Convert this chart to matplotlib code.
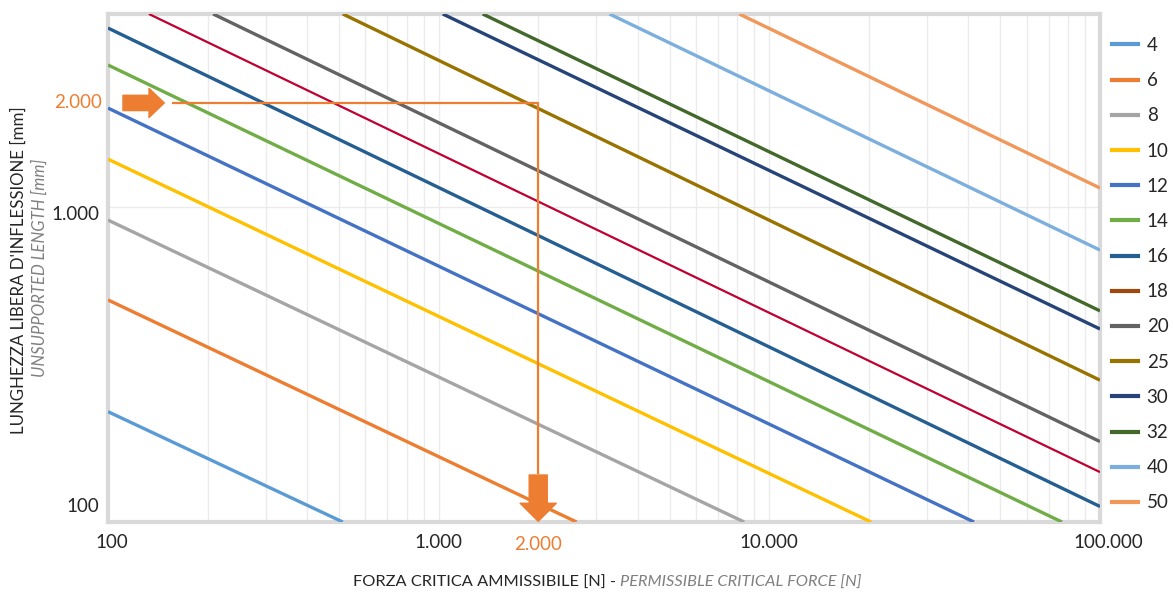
import matplotlib
matplotlib.use("Agg")
from matplotlib import pyplot as plt
from matplotlib.lines import Line2D
from matplotlib.offsetbox import AnchoredOffsetbox, HPacker, TextArea
from matplotlib.ticker import FixedLocator, NullFormatter, NullLocator
from matplotlib.transforms import ScaledTranslation

plt.rcParams['font.family'] = ['Lato', 'DejaVu Sans']

# diametro [mm] -> retta su scala log-log, letta come due estremi (forza N, lunghezza mm)
diameters = ['4', '6', '8', '10', '12', '14', '16', '18', '20', '25', '30', '32', '40', '50']
force_start = [100, 100, 100, 100, 100, 100, 100, 133, 208, 513, 1029, 1359, 3286, 8110]
length_start = [224, 507, 909, 1419, 2061, 2824, 3700, 4100, 4100, 4100, 4100, 4100, 4100, 4100]
force_end = [513, 2612, 8395, 20320, 41580, 76740, 100000, 100000, 100000, 100000, 100000, 100000, 100000, 100000]
length_end = [100, 100, 100, 100, 100, 100, 112, 144, 180, 282, 410, 468, 730, 1149]

line_colors = ['#5b9bd5', '#ed7d31', '#a5a5a5', '#ffc000', '#4472c4', '#70ad47', '#255e91',
               '#c00030', '#636363', '#997300', '#264478', '#43682b', '#7cafdd', '#f1975a']
legend_colors = ['#5b9bd5', '#ed7d31', '#a5a5a5', '#ffc000', '#4472c4', '#70ad47', '#255e91',
                 '#9e480e', '#636363', '#997300', '#264478', '#43682b', '#7cafdd', '#f1975a']

# esempio di lettura (freccia arancione)
example_force = 2000
example_length = 2140
example_force_from = 157
example_length_to = 143
example_label = '2.000'

x_ticks = [100, 1000, 10000, 100000]
x_tick_labels = ['100', '1.000', '10.000', '100.000']
y_ticks = [100, 1000]
y_tick_labels = ['100', '1.000']

ORANGE = '#ed7d31'
TEXT = '#262626'
GREY = '#808080'
FRAME = '#d9d9d9'
GRID = '#ebebeb'

fig = plt.figure(figsize=(11.73, 5.93), dpi=100)
ax = fig.add_axes([108 / 1173, 71 / 593, 992 / 1173, 508 / 593])
ax.set_xscale('log')
ax.set_yscale('log')
ax.set_xlim(100, 100000)
ax.set_ylim(100, 4100)

for i in range(len(diameters)):
    lw = 1.6 if diameters[i] == '18' else 2.4
    ax.plot([force_start[i], force_end[i]], [length_start[i], length_end[i]],
            color=line_colors[i], lw=lw, solid_capstyle='butt', zorder=3)

# grid
ax.xaxis.set_major_locator(FixedLocator(x_ticks))
ax.xaxis.set_minor_locator(FixedLocator([m * 10 ** e for e in range(2, 5) for m in range(2, 10)]))
ax.xaxis.set_minor_formatter(NullFormatter())
ax.yaxis.set_major_locator(FixedLocator(y_ticks))
ax.yaxis.set_minor_locator(NullLocator())
ax.set_xticklabels(x_tick_labels)
ax.set_yticklabels(y_tick_labels)
ax.grid(True, which='both', axis='x', color=GRID, lw=1.0, zorder=0)
ax.grid(True, which='major', axis='y', color=GRID, lw=1.0, zorder=0)
ax.set_axisbelow(True)
ax.tick_params(which='both', length=0, labelsize=13.5, colors=TEXT)
ax.tick_params(axis='x', pad=9)
ax.tick_params(axis='y', pad=6)
for s in ax.spines.values():
    s.set_color(FRAME)
    s.set_linewidth(3)

# small offsets of tick labels as in the original
lab_y = ax.get_yticklabels()
lab_y[0].set_transform(lab_y[0].get_transform() + ScaledTranslation(0, 0.17, fig.dpi_scale_trans))
lab_y[1].set_transform(lab_y[1].get_transform() + ScaledTranslation(0, -0.06, fig.dpi_scale_trans))
lab_x = ax.get_xticklabels()
lab_x[0].set_transform(lab_x[0].get_transform() + ScaledTranslation(0.04, 0, fig.dpi_scale_trans))
lab_x[3].set_transform(lab_x[3].get_transform() + ScaledTranslation(0.08, 0, fig.dpi_scale_trans))

# example lines + arrows
ax.plot([example_force_from, example_force, example_force],
        [example_length, example_length, example_length_to],
        color=ORANGE, lw=1.6, zorder=4)
ax.annotate('', xy=(148, example_length), xytext=(111, example_length),
            arrowprops=dict(arrowstyle='simple,head_length=11,head_width=21,tail_width=11',
                            mutation_scale=1, color=ORANGE, shrinkA=0, shrinkB=0), zorder=5)
ax.annotate('', xy=(example_force, 100.5), xytext=(example_force, 141),
            arrowprops=dict(arrowstyle='simple,head_length=13,head_width=26,tail_width=13',
                            mutation_scale=1, color=ORANGE, shrinkA=0, shrinkB=0), zorder=5)
ax.annotate(example_label, xy=(0, example_length), xycoords=('axes fraction', 'data'),
            xytext=(-4, 0), textcoords='offset points', ha='right', va='center',
            color=ORANGE, fontsize=13.5)
ax.annotate(example_label, xy=(example_force, 0), xycoords=('data', 'axes fraction'),
            xytext=(0, -16), textcoords='offset points', ha='center', va='center',
            color=ORANGE, fontsize=13.5)

# legend
handles = [Line2D([], [], color=c, lw=3) for c in legend_colors]
fig.legend(handles, diameters, loc='upper left', bbox_to_anchor=(1112 / 1173, 1 - 37 / 593),
           frameon=False, fontsize=13.5, handlelength=1.4, handletextpad=0.45,
           labelspacing=0.97, borderpad=0, borderaxespad=0, labelcolor=TEXT)

# axis titles
fig.text(19 / 1173, 1 - 270 / 593, "LUNGHEZZA LIBERA D'INFLESSIONE [mm]", rotation=90,
         ha='center', va='center', fontsize=12.2, color=TEXT)
fig.text(40 / 1173, 1 - 268 / 593, 'UNSUPPORTED LENGTH [mm]', rotation=90,
         ha='center', va='center', fontsize=12, color=GREY, style='italic')
xtitle = HPacker(children=[
    TextArea('FORZA CRITICA AMMISSIBILE [N] - ', textprops=dict(fontsize=11.8, color=TEXT)),
    TextArea('PERMISSIBLE CRITICAL FORCE [N]', textprops=dict(fontsize=11.8, color=GREY, style='italic')),
], pad=0, sep=0)
fig.add_artist(AnchoredOffsetbox(loc='center', child=xtitle, frameon=False, pad=0, borderpad=0,
                                 bbox_to_anchor=(607 / 1173, 1 - 583 / 593),
                                 bbox_transform=fig.transFigure))

fig.savefig('out.png', dpi=100)
